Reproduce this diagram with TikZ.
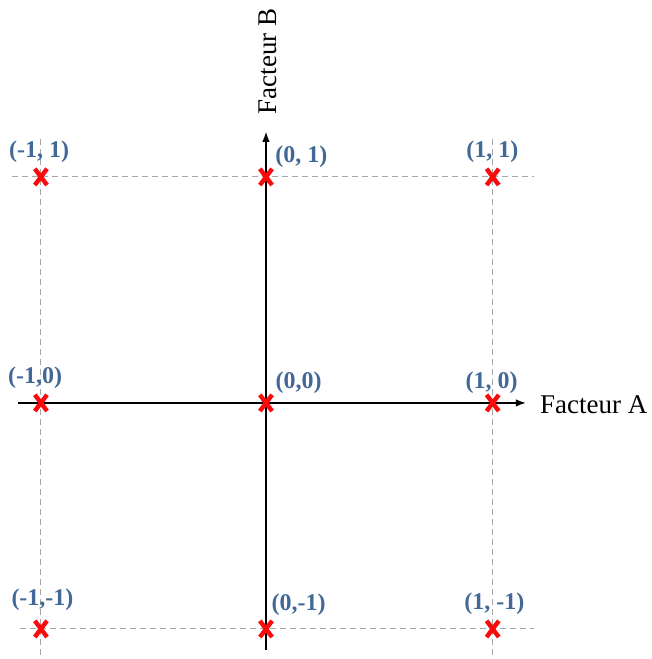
\documentclass[tikz,border=0pt]{standalone}
\usepackage{fontspec}
\setmainfont{Liberation Serif}
\usepackage{tikz}
\usetikzlibrary{arrows.meta,positioning,calc}
\definecolor{lblcolor}{RGB}{66,104,152}
\definecolor{mkcolor}{RGB}{250,10,10}
\tikzset{
  axisln/.style={-{Latex[length=10pt,width=7.5pt]}, line width=1.5pt, black},
  gridln/.style={dash pattern=on 6pt off 4pt, line width=0.9pt, gray!70},
  markln/.style={line width=4.4pt, mkcolor},
  lbl/.style={text=lblcolor, font=\fontsize{24}{28}\selectfont\bfseries, inner sep=0pt},
  axlbl/.style={font=\fontsize{27}{32}\selectfont, inner sep=0pt},
}
\newcommand{\xmark}[2]{%
  \coordinate (#1) at #2;
  \draw[markln] ($(#1)+(-0.027,-0.036)$) -- ($(#1)+(0.027,0.036)$);
  \draw[markln] ($(#1)+(-0.027,0.036)$) -- ($(#1)+(0.027,-0.036)$);
}
\begin{document}
\begin{tikzpicture}[x=226pt,y=226pt]
    \useasboundingbox (-1.177,-1.133) rectangle (1.704,1.783);
    % Ends of lines
    \coordinate (ax0) at (-1.097,0);
    \coordinate (ax1) at (1.150,0);
    \coordinate (ay0) at (0,-1.093);
    \coordinate (ay1) at (0,1.200);
    \coordinate (gt0) at (-1.124,1);
    \coordinate (gt1) at (1.185,1);
    \coordinate (gb0) at (-1.090,-1);
    \coordinate (gb1) at (1.185,-1);
    \coordinate (gl0) at (-0.996,1.17);
    \coordinate (gl1) at (-0.996,-1.133);
    \coordinate (gr0) at (1.003,1.17);
    \coordinate (gr1) at (1.003,-1.133);
    % Dashed grid
    \draw[gridln] (gt0) -- (gt1);
    \draw[gridln] (gb0) -- (gb1);
    \draw[gridln] (gl0) -- (gl1);
    \draw[gridln] (gr0) -- (gr1);
    % Axes
    \draw[axisln] (ax0) -- (ax1);
    \draw[axisln] (ay0) -- (ay1);
    \node[axlbl, right] (facA) at (1.212,-0.01) {Facteur A};
    \node[axlbl, rotate=90] (facB) at (0.009,1.511) {Facteur B};
    % Design points
    \xmark{pmp}{(-0.996,1)}
    \xmark{pzp}{(0,1)}
    \xmark{ppp}{(1.003,1)}
    \xmark{pmz}{(-0.996,0)}
    \xmark{pzz}{(0,0)}
    \xmark{ppz}{(1.003,0)}
    \xmark{pmm}{(-0.996,-1)}
    \xmark{pzm}{(0,-1)}
    \xmark{ppm}{(1.003,-1)}
    % Labels
    \node[lbl] (lmp) at (-1.004,1.111) {(-1, 1)};
    \node[lbl] (lzp) at (0.157,1.088) {(0, 1)};
    \node[lbl] (lpp) at (1.002,1.111) {(1, 1)};
    \node[lbl] (lmz) at (-1.022,0.111) {(-1,0)};
    \node[lbl] (lzz) at (0.144,0.088) {(0,0)};
    \node[lbl] (lpz) at (0.998,0.088) {(1, 0)};
    \node[lbl] (lmm) at (-0.989,-0.872) {(-1,-1)};
    \node[lbl] (lzm) at (0.144,-0.894) {(0,-1)};
    \node[lbl] (lpm) at (1.011,-0.889) {(1, -1)};
\end{tikzpicture}
\end{document}
